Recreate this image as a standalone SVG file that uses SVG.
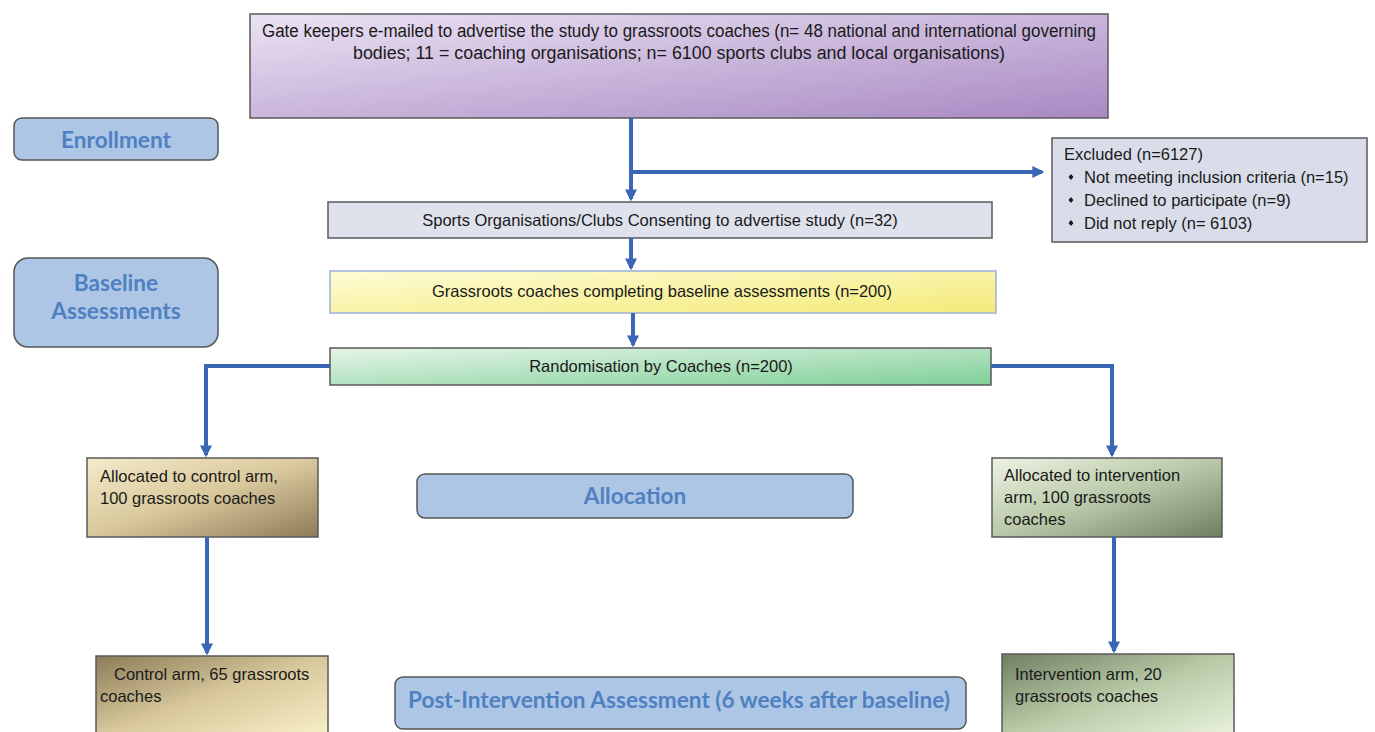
<svg xmlns="http://www.w3.org/2000/svg" width="1375" height="732" viewBox="0 0 1375 732">
<defs>
<linearGradient id="gPurple" x1="0" y1="0" x2="1" y2="1"><stop offset="0" stop-color="#ebe3f3"/><stop offset="1" stop-color="#a889c3"/></linearGradient>
<linearGradient id="gYellow" x1="0" y1="0" x2="1" y2="1"><stop offset="0" stop-color="#fdfcd6"/><stop offset="1" stop-color="#f4ea78"/></linearGradient>
<linearGradient id="gGreen" x1="0" y1="0" x2="1" y2="1"><stop offset="0" stop-color="#e6f5e9"/><stop offset="1" stop-color="#7fcf97"/></linearGradient>
<linearGradient id="gTan" x1="0" y1="0" x2="1" y2="1"><stop offset="0" stop-color="#f4ebca"/><stop offset="0.5" stop-color="#d9c89c"/><stop offset="1" stop-color="#8c7b56"/></linearGradient>
<linearGradient id="gTan2" x1="0" y1="0" x2="1" y2="1"><stop offset="0" stop-color="#8c7b56"/><stop offset="0.5" stop-color="#d8c89c"/><stop offset="1" stop-color="#f8efc6"/></linearGradient>
<linearGradient id="gSage" x1="0" y1="0" x2="1" y2="1"><stop offset="0" stop-color="#eef3e4"/><stop offset="0.5" stop-color="#b8c8a8"/><stop offset="1" stop-color="#6e7f62"/></linearGradient>
<linearGradient id="gSage2" x1="0" y1="0" x2="1" y2="1"><stop offset="0" stop-color="#6e7f62"/><stop offset="0.5" stop-color="#b9caa8"/><stop offset="1" stop-color="#e9f3dc"/></linearGradient>
<marker id="arr" viewBox="0 0 10 10" refX="8" refY="5" markerWidth="3" markerHeight="3" orient="auto" markerUnits="strokeWidth"><path d="M0,0 L10,5 L0,10 z" fill="#3a66b5"/></marker>
</defs>
<style>
.box{stroke:#5a5a5a;stroke-width:1.5}
.lbl{fill:#adc6e6;stroke:#555;stroke-width:1.5}
.lt{font-family:Lato,"Open Sans",sans-serif;font-weight:bold;font-size:22.6px;fill:#4f81c1;text-anchor:middle}
.t{font-family:"Liberation Sans",Arial,sans-serif;font-size:16.5px;fill:#1a1a1a}
.tt{font-size:18px}
.tc{text-anchor:middle}
.c{fill:none;stroke:#3a66b5;stroke-width:4}
</style>
<rect width="1375" height="732" fill="#ffffff"/>
<g id="top">
<rect class="box" x="250" y="14" width="858" height="104" fill="url(#gPurple)"/>
<text class="t tt tc" x="679" y="37" textLength="834" lengthAdjust="spacingAndGlyphs">Gate keepers e-mailed to advertise the study to grassroots coaches (n= 48 national and international governing</text>
<text class="t tt tc" x="679" y="59" textLength="652" lengthAdjust="spacingAndGlyphs">bodies; 11 = coaching organisations; n= 6100 sports clubs and local organisations)</text>
</g>
<g id="enrollment">
<rect class="lbl" x="14" y="118" width="204" height="42" rx="8"/>
<text class="lt" x="116" y="148">Enrollment</text>
</g>
<g id="baseline">
<rect class="lbl" x="14" y="258" width="204" height="89" rx="14"/>
<text class="lt" x="116" y="291">Baseline</text>
<text class="lt" x="116" y="319">Assessments</text>
</g>
<g id="excluded">
<rect class="box" x="1052" y="138" width="315" height="104" fill="#d8dde9"/>
<text class="t" x="1064" y="160">Excluded (n=6127)</text>
<path d="M1071,174 l2.5,3 l-2.5,3 l-2.5,-3 z M1071,197 l2.5,3 l-2.5,3 l-2.5,-3 z M1071,220 l2.5,3 l-2.5,3 l-2.5,-3 z" fill="#1a1a1a"/>
<text class="t" x="1084" y="183">Not meeting inclusion criteria (n=15)</text>
<text class="t" x="1084" y="206">Declined to participate (n=9)</text>
<text class="t" x="1084" y="229">Did not reply (n= 6103)</text>
</g>
<g id="sports">
<rect class="box" x="328" y="202" width="664" height="36" fill="#dfe2ec"/>
<text class="t tc" x="660" y="226">Sports Organisations/Clubs Consenting to advertise study (n=32)</text>
</g>
<g id="grassroots">
<rect x="330" y="271" width="666" height="42" fill="url(#gYellow)" stroke="#9ab0d8" stroke-width="1.5"/>
<text class="t tc" x="662" y="297">Grassroots coaches completing baseline assessments (n=200)</text>
</g>
<g id="random">
<rect class="box" x="330" y="348" width="661" height="37" fill="url(#gGreen)"/>
<text class="t tc" x="661" y="372">Randomisation by Coaches (n=200)</text>
</g>
<g id="allocControl">
<rect class="box" x="87" y="458" width="231" height="79" fill="url(#gTan)"/>
<text class="t" x="100" y="482">Allocated to control arm,</text>
<text class="t" x="100" y="504">100 grassroots coaches</text>
</g>
<g id="allocation">
<rect class="lbl" x="417" y="474" width="436" height="44" rx="8"/>
<text class="lt" x="635" y="504">Allocation</text>
</g>
<g id="allocIntervention">
<rect class="box" x="992" y="458" width="230" height="79" fill="url(#gSage)"/>
<text class="t" x="1004" y="481">Allocated to intervention</text>
<text class="t" x="1004" y="503">arm, 100 grassroots</text>
<text class="t" x="1004" y="525">coaches</text>
</g>
<g id="controlArm">
<rect class="box" x="96" y="656" width="232" height="80" fill="url(#gTan2)"/>
<text class="t" x="114" y="680">Control arm, 65 grassroots</text>
<text class="t" x="100" y="702">coaches</text>
</g>
<g id="postIntervention">
<rect class="lbl" x="395" y="677" width="571" height="52" rx="8"/>
<text class="lt" x="679" y="708">Post-Intervention Assessment (6 weeks after baseline)</text>
</g>
<g id="interventionArm">
<rect class="box" x="1002" y="654" width="232" height="82" fill="url(#gSage2)"/>
<text class="t" x="1015" y="680">Intervention arm, 20</text>
<text class="t" x="1015" y="702">grassroots coaches</text>
</g>
<g id="connectors">
<path class="c" d="M631,118 V199" marker-end="url(#arr)"/>
<path class="c" d="M631,172 H1042" marker-end="url(#arr)"/>
<path class="c" d="M631,238 V268" marker-end="url(#arr)"/>
<path class="c" d="M633,313 V345" marker-end="url(#arr)"/>
<path class="c" d="M330,366 H206 V455" marker-end="url(#arr)"/>
<path class="c" d="M991,366 H1112 V455" marker-end="url(#arr)"/>
<path class="c" d="M207,537 V653" marker-end="url(#arr)"/>
<path class="c" d="M1114,537 V651" marker-end="url(#arr)"/>
</g>
</svg>
